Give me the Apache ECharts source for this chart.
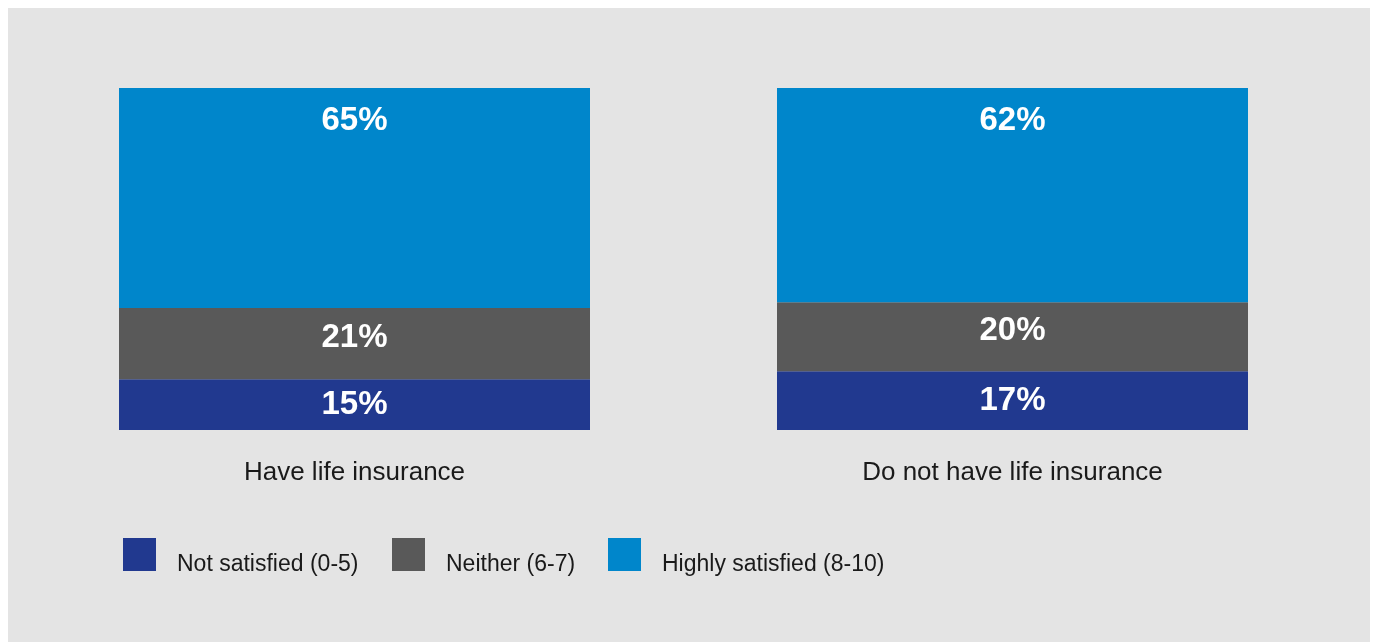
<!DOCTYPE html>
<html>
<head>
<meta charset="utf-8">
<script src="https://cdn.jsdelivr.net/npm/echarts@6/dist/echarts.min.js"></script>
<style>
html,body{margin:0;padding:0;background:#ffffff;}
#frame{position:absolute;left:8px;top:8px;right:5px;bottom:0;background:#e4e4e4;}
#chart{position:absolute;left:0;top:0;width:1375px;height:642px;}
</style>
</head>
<body>
<div id="frame"></div>
<div id="chart"></div>
<script>
const categories = ['Have life insurance', 'Do not have life insurance'];
const seriesNames = ['Not satisfied (0-5)', 'Neither (6-7)', 'Highly satisfied (8-10)'];
const notSatisfied = [15, 17];
const neither = [21, 20];
const highlySatisfied = [65, 62];
const colors = ['#21398f', '#595959', '#0086cb'];

const FONT = "'Liberation Sans', Arial, Helvetica, sans-serif";

const raw = [notSatisfied, neither, highlySatisfied];
const totals = categories.map((c, i) => raw.reduce((s, arr) => s + arr[i], 0));
function norm(arr) {
  return arr.map((v, i) => ({ value: v / totals[i] * 100, raw: v }));
}

const labelBase = {
  show: true,
  color: '#ffffff',
  fontFamily: FONT,
  fontWeight: 'bold',
  fontSize: 33,
  formatter: p => p.data.raw + '%'
};

const chart = echarts.init(document.getElementById('chart'), null, { renderer: 'canvas' });

const legendCommon = {
  orient: 'horizontal',
  itemWidth: 33,
  itemHeight: 33,
  itemGap: 34,
  icon: 'rect',
  top: 538,
  padding: 0,
  selectedMode: false,
  formatter: '{t|{name}}',
  textStyle: {
    fontFamily: FONT,
    fontSize: 23,
    color: '#1a1a1a',
    padding: [0, 0, 0, 16],
    rich: {
      t: {
        fontFamily: FONT,
        fontSize: 23,
        color: '#1a1a1a',
        padding: [20, 0, 0, 0]
      }
    }
  }
};

chart.setOption({
  backgroundColor: 'transparent',
  animation: false,
  color: colors,
  legend: [
    Object.assign({}, legendCommon, { left: 123, data: [seriesNames[0]] }),
    Object.assign({}, legendCommon, { left: 392, data: [seriesNames[1]] }),
    Object.assign({}, legendCommon, { left: 608, data: [seriesNames[2]] })
  ],
  grid: { left: 25.5, right: 33.5, top: 88, bottom: 212, containLabel: false },
  xAxis: {
    type: 'category',
    data: categories,
    axisLine: { show: false },
    axisTick: { show: false },
    axisLabel: {
      margin: 30,
      fontFamily: FONT,
      fontSize: 26,
      color: '#1a1a1a'
    }
  },
  yAxis: {
    type: 'value',
    min: 0,
    max: 100,
    show: false,
    splitLine: { show: false }
  },
  series: [
    {
      name: seriesNames[0], type: 'bar', stack: 'total', barWidth: 471,
      data: norm(notSatisfied),
      itemStyle: { color: colors[0] },
      label: Object.assign({}, labelBase, { position: 'inside' })
    },
    {
      name: seriesNames[1], type: 'bar', stack: 'total', barWidth: 471,
      data: norm(neither),
      itemStyle: { color: colors[1] },
      label: Object.assign({}, labelBase, { position: 'inside', offset: [0, -6] })
    },
    {
      name: seriesNames[2], type: 'bar', stack: 'total', barWidth: 471,
      data: norm(highlySatisfied),
      itemStyle: { color: colors[2] },
      label: Object.assign({}, labelBase, { position: 'insideTop', distance: 16 })
    }
  ]
});
</script>
</body>
</html>
